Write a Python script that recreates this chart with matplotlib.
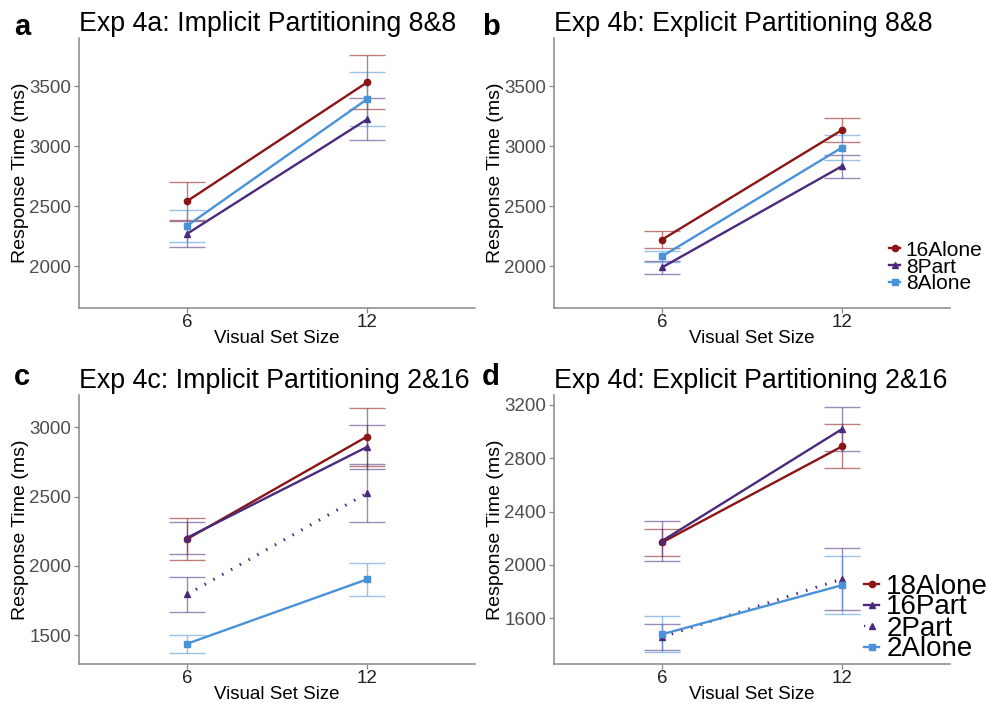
import numpy as np
import matplotlib.pyplot as plt
from matplotlib.lines import Line2D

plt.rcParams['font.family'] = ['Liberation Sans', 'DejaVu Sans']

# x categories
set_sizes = ['6', '12']

# Exp 4a: Implicit Partitioning 8&8
a_labels = ['16Alone', '8Part', '8Alone']
a_means = [[2540, 3530], [2268, 3222], [2335, 3390]]
a_errs = [[160, 225], [110, 176], [133, 226]]

# Exp 4b: Explicit Partitioning 8&8
b_labels = ['16Alone', '8Part', '8Alone']
b_means = [[2220, 3133], [1988, 2832], [2080, 2987]]
b_errs = [[68, 98], [52, 96], [48, 101]]

# Exp 4c: Implicit Partitioning 2&16
c_labels = ['18Alone', '16Part', '2Part', '2Alone']
c_means = [[2193, 2933], [2202, 2858], [1793, 2524], [1437, 1902]]
c_errs = [[151, 209], [114, 158], [125, 211], [63, 117]]

# Exp 4d: Explicit Partitioning 2&16
d_labels = ['18Alone', '16Part', '2Part', '2Alone']
d_means = [[2168, 2889], [2179, 3019], [1458, 1893], [1478, 1847]]
d_errs = [[100, 165], [148, 164], [100, 230], [134, 217]]

RED = '#8B1515'
PURPLE = '#4B2A7E'
BLUE = '#4A92D8'

styles3 = [(RED, 'o', '-'), (PURPLE, '^', '-'), (BLUE, 's', '-')]
styles4 = [(RED, 'o', '-'), (PURPLE, '^', '-'), (PURPLE, '^', (0, (0.5, 2.8))), (BLUE, 's', '-')]

fig = plt.figure(figsize=(9.87, 7.03), dpi=100)
W, H = 987, 703


def make_ax(left, top, right, bottom):
    return fig.add_axes([left / W, 1 - bottom / H, (right - left) / W, (bottom - top) / H])


def panel(ax, title, labels, means, errs, styles, ylim, yticks):
    x = np.arange(len(set_sizes)) + 1
    for lab, m, e, (col, mk, ls) in zip(labels, means, errs, styles):
        ax.errorbar(x, m, yerr=e, fmt='none', ecolor=col, elinewidth=1,
                    capsize=13, capthick=1, alpha=0.55, zorder=2)
        lw = 1.7 if ls == '-' else 2.2
        ax.plot(x, m, color=col, linestyle=ls, lw=lw, zorder=3)
        ax.plot(x, m, color=col, marker=mk, linestyle='none', ms=4.5, zorder=4)
    ax.set_xlim(0.4, 2.6)
    ax.set_ylim(*ylim)
    ax.set_xticks(x)
    ax.set_xticklabels(set_sizes)
    ax.set_yticks(yticks)
    for s in ['top', 'right']:
        ax.spines[s].set_visible(False)
    for s in ['left', 'bottom']:
        ax.spines[s].set_color('#888888')
        ax.spines[s].set_linewidth(1.1)
    ax.tick_params(axis='both', colors='#888888', length=3.5, width=0.9)
    ax.tick_params(axis='y', labelcolor='#4D4D4D', labelsize=13.5, pad=2)
    ax.tick_params(axis='x', labelcolor='#222222', labelsize=13.5, pad=1)
    ax.set_xlabel('Visual Set Size', fontsize=13.5, labelpad=-1)
    ax.set_ylabel('Response Time (ms)', fontsize=14, labelpad=0.5)
    ax.set_title(title, loc='left', fontsize=19.3, pad=5)


def legend(ax, labels, styles, x, y, fs, spacing, hl):
    handles = [Line2D([0], [0], color=c, marker=mk, linestyle=ls, lw=1.7, ms=4.5)
               for c, mk, ls in styles]
    ax.legend(handles, labels, loc='center left', bbox_to_anchor=(x / W, 1 - y / H),
              bbox_transform=fig.transFigure, frameon=False, fontsize=fs,
              handlelength=hl, handletextpad=0.25, labelspacing=spacing,
              borderpad=0, borderaxespad=0)


ax_a = make_ax(79, 38, 475, 308)
ax_b = make_ax(554, 38, 950, 308)
ax_c = make_ax(79, 395, 475, 664)
ax_d = make_ax(554, 395, 950, 664)

panel(ax_a, 'Exp 4a: Implicit Partitioning 8&8', a_labels, a_means, a_errs, styles3,
      (1650, 3900), [2000, 2500, 3000, 3500])
panel(ax_b, 'Exp 4b: Explicit Partitioning 8&8', b_labels, b_means, b_errs, styles3,
      (1650, 3900), [2000, 2500, 3000, 3500])
panel(ax_c, 'Exp 4c: Implicit Partitioning 2&16', c_labels, c_means, c_errs, styles4,
      (1291, 3233), [1500, 2000, 2500, 3000])
panel(ax_d, 'Exp 4d: Explicit Partitioning 2&16', d_labels, d_means, d_errs, styles4,
      (1255, 3275), [1600, 2000, 2400, 2800, 3200])

legend(ax_b, b_labels, styles3, 889, 267, 15, -0.1, 0.55)
legend(ax_d, d_labels, styles4, 864, 618, 20, -0.18, 0.55)

for lab, x, y in [('a', 14, 35), ('b', 482, 35), ('c', 14, 385), ('d', 482, 385)]:
    fig.text(x / W, 1 - y / H, lab, fontsize=21, fontweight='bold', va='baseline')

fig.savefig('out.png', dpi=100)
